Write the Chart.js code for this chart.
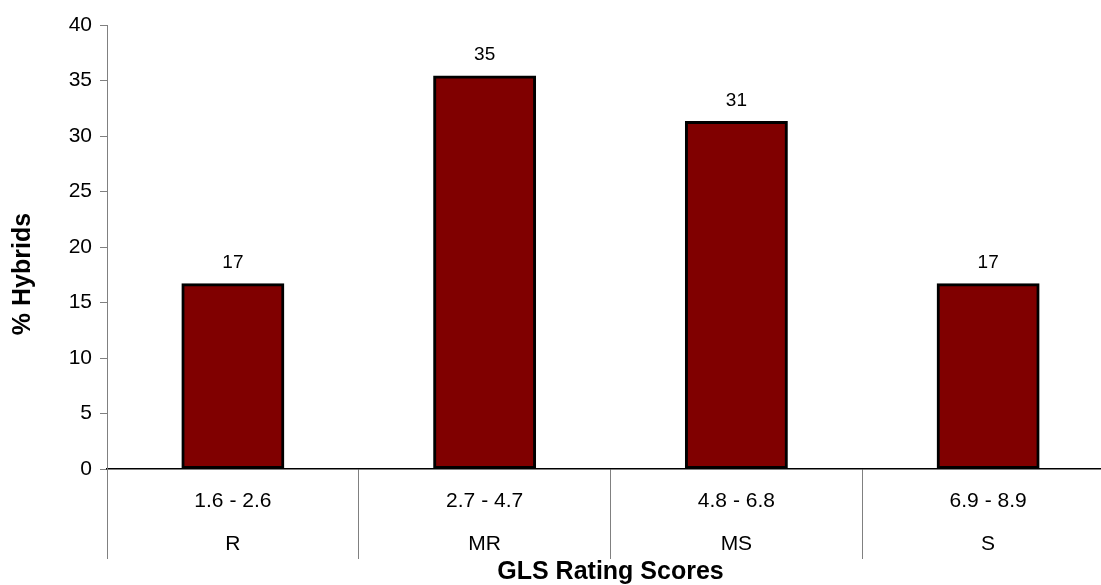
<!DOCTYPE html>
<html>
<head>
<meta charset="utf-8">
<script src="https://cdn.jsdelivr.net/npm/chart.js@4/dist/chart.umd.min.js"></script>
<style>
  html, body { margin: 0; padding: 0; background: #fff; overflow: hidden; }
  #wrap { position: relative; width: 1115px; height: 585px; }
</style>
</head>
<body>
<div id="wrap"><canvas id="myChart"></canvas></div>
<script>
var rangeLabels = ['1.6 - 2.6', '2.7 - 4.7', '4.8 - 6.8', '6.9 - 8.9'];
var classLabels = ['R', 'MR', 'MS', 'S'];
var percentHybrids = [16.7, 35.4, 31.3, 16.7];
var yTicks = [0, 5, 10, 15, 20, 25, 30, 35, 40];

var FONT = "'Liberation Sans', Arial, sans-serif";

// value labels over the bars
var valueLabels = {
  id: 'valueLabels',
  afterDatasetsDraw: function (chart) {
    var ctx = chart.ctx;
    var meta = chart.getDatasetMeta(0);
    ctx.save();
    ctx.font = '19px ' + FONT;
    ctx.fillStyle = '#000';
    ctx.textAlign = 'center';
    ctx.textBaseline = 'alphabetic';
    meta.data.forEach(function (bar, i) {
      ctx.fillText(Math.round(percentHybrids[i]), bar.x, bar.y - 16);
    });
    ctx.restore();
  }
};

// y title sits a bit lower than the chart area middle
var yTitle = {
  id: 'yTitle',
  afterDraw: function (chart) {
    var ctx = chart.ctx;
    ctx.save();
    ctx.translate(23, 274);
    ctx.rotate(-Math.PI / 2);
    ctx.font = 'bold 25px ' + FONT;
    ctx.fillStyle = '#000';
    ctx.textAlign = 'center';
    ctx.textBaseline = 'middle';
    ctx.fillText('% Hybrids', 0, 0);
    ctx.restore();
  }
};

var labels = [];
for (var i = 0; i < rangeLabels.length; i++) {
  labels.push([rangeLabels[i], classLabels[i]]);
}

var ctx = document.getElementById('myChart').getContext('2d');
var myChart = new Chart(ctx, {
  type: 'bar',
  data: {
    labels: labels,
    datasets: [{
      label: '% Hybrids',
      data: percentHybrids,
      backgroundColor: '#800000',
      borderColor: '#000000',
      borderWidth: 3,
      inflateAmount: 0.5,
      borderSkipped: false,
      barPercentage: 0.405,
      categoryPercentage: 1
    }]
  },
  options: {
    responsive: true,
    maintainAspectRatio: false,
    animation: false,
    layout: { padding: { top: 25, right: 1, bottom: 0, left: 0 } },
    plugins: {
      legend: { display: false },
      tooltip: { enabled: false }
    },
    scales: {
      x: {
        offset: true,
        grid: {
          offset: true,
          drawOnChartArea: false,
          tickLength: 90,
          color: '#808080',
          lineWidth: 1
        },
        border: { color: '#000', width: 1.5 },
        ticks: {
          color: '#000',
          padding: -79.5,
          maxRotation: 0,
          font: { family: FONT, size: 21, lineHeight: 43 / 21 }
        },
        title: {
          display: true,
          text: 'GLS Rating Scores',
          color: '#000',
          padding: { top: 0, bottom: 0 },
          font: { family: FONT, size: 25, weight: 'bold', lineHeight: 1 }
        },
        afterFit: function (scale) { scale.height = 116; }
      },
      y: {
        min: 0,
        max: 40,
        afterBuildTicks: function (scale) {
          scale.ticks = yTicks.map(function (v) { return { value: v }; });
        },
        grid: {
          drawOnChartArea: false,
          tickLength: 7,
          color: '#808080'
        },
        border: { color: '#808080', width: 1 },
        ticks: {
          color: '#000',
          padding: 8,
          font: { family: FONT, size: 21 }
        },
        afterFit: function (scale) { scale.width = 107; }
      }
    }
  },
  plugins: [valueLabels, yTitle]
});
</script>
</body>
</html>
